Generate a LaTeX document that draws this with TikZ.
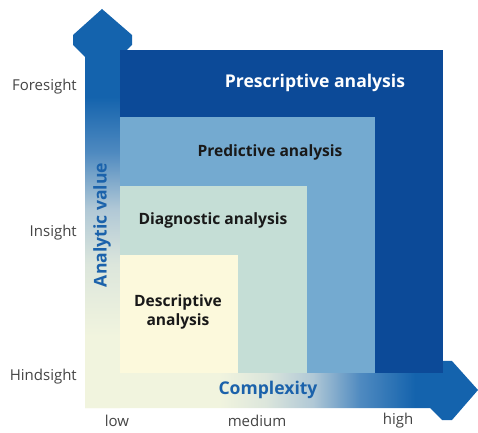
\documentclass[tikz,border=0pt]{standalone}
\usepackage{fontspec}
\setmainfont{Open Sans}
\usepackage{tikz}
\usetikzlibrary{positioning}

\definecolor{presblue}{HTML}{0C4A98}
\definecolor{predblue}{HTML}{74AAD0}
\definecolor{diagteal}{HTML}{C5DED6}
\definecolor{desccream}{HTML}{FCF9DC}
\definecolor{axisblue}{HTML}{1463AD}
\definecolor{axisdeep}{HTML}{4F8AC0}
\definecolor{axismid}{HTML}{B0C8D6}
\definecolor{axislight}{HTML}{DCE6DC}
\definecolor{axispale}{HTML}{F1F4DE}
\definecolor{textblue}{HTML}{1B62AB}
\definecolor{labelgray}{HTML}{444444}

% gradients of the two axes
\pgfdeclareverticalshading{valueshade}{100bp}{color(0bp)=(axispale); color(34bp)=(axispale);
  color(43bp)=(axislight); color(50bp)=(axismid); color(57bp)=(axisdeep); color(64bp)=(axisblue); color(100bp)=(axisblue)}
\pgfdeclarehorizontalshading{complexshade}{100bp}{color(0bp)=(axispale); color(42bp)=(axispale);
  color(48bp)=(axislight); color(54bp)=(axismid); color(60bp)=(axisdeep); color(67bp)=(axisblue); color(100bp)=(axisblue)}

\begin{document}
\begin{tikzpicture}[x=0.03cm, y=-0.03cm,
    level/.style={font=\fontsize{13.3}{15.5}\selectfont\bfseries, text=black!90, align=center, inner sep=0pt},
    axistitle/.style={font=\fontsize{15}{17}\selectfont\bfseries, text=textblue, inner sep=0pt},
    tick/.style={font=\fontsize{12.8}{14}\selectfont, text=labelgray, inner sep=0pt}
]
\useasboundingbox (0,0) rectangle (478,433);

% Axes (gradient arrows)
\shade[shading=valueshade]
    (85,408) -- (85,57) -- (73,45) -- (73,35) -- (102,9) -- (132,35) -- (132,45) -- (120,57) -- (120,408) -- cycle;
\shade[shading=complexshade]
    (85,373) -- (430,373) -- (442,361) -- (452,361) -- (478,390) -- (452,420) -- (442,420) -- (430,408) -- (85,408) -- cycle;

% Nested areas
\fill[presblue] (120,50) rectangle (443,373);
\fill[predblue] (120,117) rectangle (375,373);
\fill[diagteal] (120,186) rectangle (307,373);
\fill[desccream] (120,255) rectangle (238,373);

% Area labels
\node[level, text=white, font=\fontsize{15}{17}\selectfont\bfseries] (prescriptive) at (315,83) {Prescriptive analysis};
\node[level] (predictive) at (270,152) {Predictive analysis};
\node[level] (diagnostic) at (213,220) {Diagnostic analysis};
\node[level] (descriptive) at (178,312) {Descriptive\\analysis};

% Axis titles
\node[axistitle, rotate=90] (value) at (102,225) {Analytic value};
\node[axistitle] (complexity) at (268,390) {Complexity};

% Tick labels
\node[tick, anchor=east] (foresight) at (77,87) {Foresight};
\node[tick, anchor=east] (insight) at (77,233) {Insight};
\node[tick, anchor=east] (hindsight) at (77,377) {Hindsight};
\node[tick] (low) at (117,421) {low};
\node[tick] (medium) at (257,421) {medium};
\node[tick] (high) at (398,421) {high};

\end{tikzpicture}
\end{document}
